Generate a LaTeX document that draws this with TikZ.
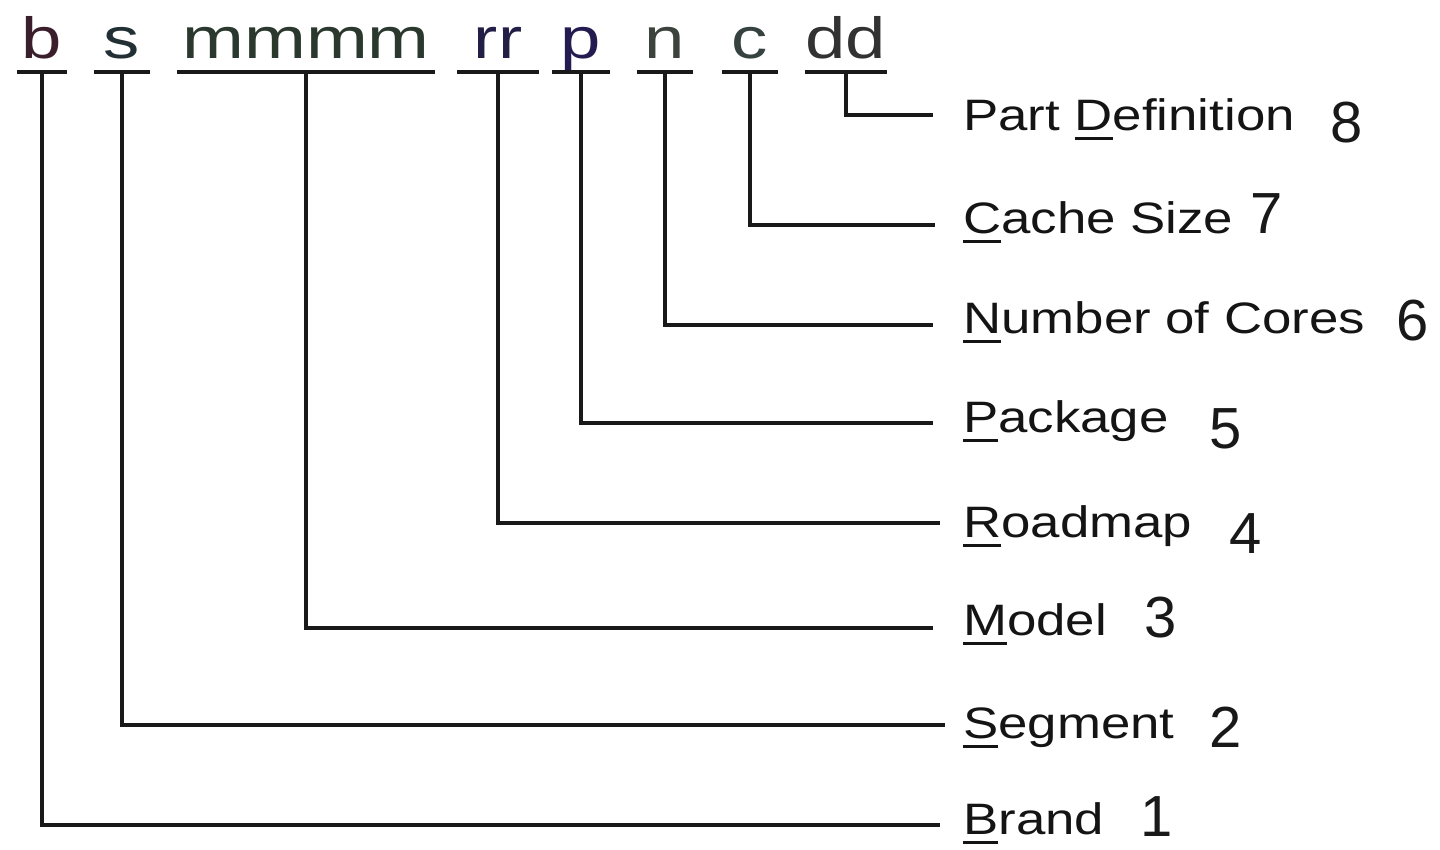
\documentclass[tikz,border=0pt]{standalone}
\usepackage{fontspec}
\setmainfont{Liberation Sans}
\usepackage{graphicx}
\newcommand\firstul[1]{\setbox0\hbox{#1}\rlap{\rule[-10pt]{\wd0}{3pt}}#1}
\begin{document}
\begin{tikzpicture}[x=1pt,y=1pt,
  lw/.style={line width=4.5pt, draw=black!90},
  code/.style={font=\fontsize{58}{58}\selectfont, inner sep=0pt, anchor=base, text depth=14pt, text height=44pt},
  lab/.style={font=\fontsize{44}{44}\selectfont, inner sep=0pt, anchor=base west, text=black!92},
  num/.style={font=\fontsize{58}{58}\selectfont, inner sep=0pt, anchor=base west, text=black!90}]
\useasboundingbox (0,0) rectangle (1440,-849);
\fill[white] (0,0) rectangle (1440,-849);

% code letters with their underline widths
\node[code, minimum width=50, text={rgb,255:red,58;green,30;blue,44}]  (tb) at (42,-58)  {\scalebox{1.25}[1]{b}};
\node[code, minimum width=56, text={rgb,255:red,34;green,48;blue,54}]  (ts) at (122,-58) {\scalebox{1.25}[1]{s}};
\node[code, minimum width=258, text={rgb,255:red,42;green,56;blue,46}] (tm) at (306,-58) {\scalebox{1.28}[1]{mmmm}};
\node[code, minimum width=81, text={rgb,255:red,34;green,30;blue,70}]  (tr) at (498,-58) {\scalebox{1.25}[1]{rr}};
\node[code, minimum width=58, text={rgb,255:red,36;green,28;blue,80}]  (tp) at (581,-58) {\scalebox{1.25}[1]{p}};
\node[code, minimum width=56, text={rgb,255:red,60;green,66;blue,60}]  (tn) at (665,-58) {\scalebox{1.25}[1]{n}};
\node[code, minimum width=56, text={rgb,255:red,54;green,66;blue,64}]  (tc) at (750,-58) {\scalebox{1.25}[1]{c}};
\node[code, minimum width=82, text={rgb,255:red,50;green,50;blue,50}]  (td) at (846,-58) {\scalebox{1.25}[1]{dd}};

\foreach \n in {tb,ts,tm,tr,tp,tn,tc,td}
  \draw[lw] (\n.south west) -- (\n.south east);

% line ends
\coordinate (e1) at (940,-825);
\coordinate (e2) at (945,-725);
\coordinate (e3) at (933,-628);
\coordinate (e4) at (940,-523);
\coordinate (e5) at (933,-423);
\coordinate (e6) at (933,-325);
\coordinate (e7) at (935,-225);
\coordinate (e8) at (933,-115);

\draw[lw] (tb.south) |- (e1);
\draw[lw] (ts.south) |- (e2);
\draw[lw] (tm.south) |- (e3);
\draw[lw] (tr.south) |- (e4);
\draw[lw] (tp.south) |- (e5);
\draw[lw] (tn.south) |- (e6);
\draw[lw] (tc.south) |- (e7);
\draw[lw] (td.south) |- (e8);

% labels
\node[lab] (l8) at (963,-130) {\scalebox{1.2}[1]{Part \firstul{D}efinition}};
\node[lab] (l7) at (963,-233) {\scalebox{1.2}[1]{\firstul{C}ache Size}};
\node[lab] (l6) at (963,-333) {\scalebox{1.2}[1]{\firstul{N}umber of Cores}};
\node[lab] (l5) at (963,-432) {\scalebox{1.2}[1]{\firstul{P}ackage}};
\node[lab] (l4) at (963,-537) {\scalebox{1.2}[1]{\firstul{R}oadmap}};
\node[lab] (l3) at (963,-635) {\scalebox{1.2}[1]{\firstul{M}odel}};
\node[lab] (l2) at (963,-738) {\scalebox{1.2}[1]{\firstul{S}egment}};
\node[lab] (l1) at (963,-834) {\scalebox{1.2}[1]{\firstul{B}rand}};

% numbers
\node[num] (n8) at (1330,-142) {8};
\node[num] (n7) at (1250,-233) {7};
\node[num] (n6) at (1396,-340) {6};
\node[num] (n5) at (1209,-448) {5};
\node[num] (n4) at (1229,-553) {4};
\node[num] (n3) at (1144,-637) {3};
\node[num] (n2) at (1209,-747) {2};
\node[num] (n1) at (1140,-836) {1};
\end{tikzpicture}
\end{document}
